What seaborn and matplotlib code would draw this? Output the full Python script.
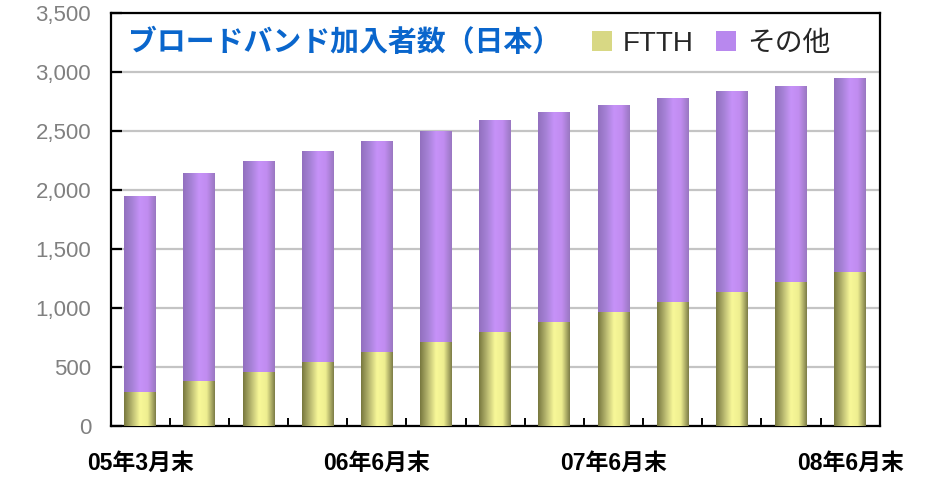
import numpy as np
import pandas as pd
import matplotlib
matplotlib.use("Agg")
import matplotlib.pyplot as plt
import seaborn as sns
from matplotlib.colors import LinearSegmentedColormap
from matplotlib.patches import Patch

# values in 10k subscribers
ftth = [280, 380, 450, 535, 620, 705, 790, 880, 960, 1045, 1130, 1215, 1300]
total = [1950, 2140, 2240, 2330, 2410, 2500, 2590, 2655, 2720, 2775, 2840, 2875, 2945]
other = [t - f for t, f in zip(total, ftth)]
period_labels = ["05年3月末", "", "", "", "06年6月末", "", "", "",
                 "07年6月末", "", "", "", "08年6月末"]
series_names = ["FTTH", "その他"]
title = "ブロードバンド加入者数（日本）"

df = pd.DataFrame({
    "pos": np.arange(len(total)),
    "ftth": ftth,
    "total": [f + o for f, o in zip(ftth, other)],
})

sns.set_theme(style="white")
plt.rcParams["font.family"] = ["Liberation Sans", "Noto Sans CJK JP", "DejaVu Sans"]

purple_cmap = LinearSegmentedColormap.from_list(
    "purple", ["#9270bf", "#a682d6", "#c692f8", "#c18cf0", "#9a78c2"])
yellow_cmap = LinearSegmentedColormap.from_list(
    "yellow", ["#78783f", "#b8b870", "#f8f898", "#eeee90", "#7e7e48"])


def shade_bars(ax, patches, cmap, zorder):
    # fake the cylinder look of the original with a horizontal gradient
    grad = np.linspace(0, 1, 64).reshape(1, -1)
    for p in patches:
        x0, y0 = p.get_x(), p.get_y()
        w, h = p.get_width(), p.get_height()
        ax.imshow(grad, cmap=cmap, extent=(x0, x0 + w, y0, y0 + h),
                  aspect="auto", interpolation="bilinear", zorder=zorder)
        p.set_visible(False)


fig = plt.figure(figsize=(9.3, 4.8), dpi=100)
ax = fig.add_axes([0.119, 0.113, 0.827, 0.86])

sns.barplot(data=df, x="pos", y="total", color="#b888ee", saturation=1,
            width=0.54, ax=ax)
n = len(ax.patches)
sns.barplot(data=df, x="pos", y="ftth", color="#e8e88a", saturation=1,
            width=0.54, ax=ax)
shade_bars(ax, ax.patches[:n], purple_cmap, 2)
shade_bars(ax, ax.patches[n:], yellow_cmap, 3)

ax.set_xlim(-0.5, len(total) - 0.5)
ax.set_ylim(0, 3500)
ax.set_yticks(np.arange(0, 3501, 500))
ax.set_yticklabels([f"{v:,}" for v in range(0, 3501, 500)])
ax.set_xticks(np.arange(len(total)))
ax.set_xticklabels(period_labels, fontweight="bold")
ax.set_xticks(np.arange(len(total) - 1) + 0.5, minor=True)
ax.set_xlabel("")
ax.set_ylabel("")

ax.yaxis.grid(True, color="#c4c4c4", linewidth=1.6)
ax.set_axisbelow(True)
for s in ax.spines.values():
    s.set_visible(True)
    s.set_color("black")
    s.set_linewidth(1.6)

ax.tick_params(axis="y", direction="in", length=8, width=1.6, color="black",
               labelsize=16, labelcolor="#808080", pad=14, left=True)
ax.tick_params(axis="x", which="major", length=0, labelsize=16.5,
               labelcolor="black", pad=19)
ax.tick_params(axis="x", which="minor", direction="in", length=6, width=1.4,
               color="black", bottom=True)

ax.text(0.022, 0.928, title, transform=ax.transAxes, fontsize=20.8,
        fontweight="bold", color="#0a66cc", va="center", ha="left", zorder=5)

handles = [Patch(facecolor="#d8d884", edgecolor="none"),
           Patch(facecolor="#b888ee", edgecolor="none")]
leg = ax.legend(handles, series_names, loc="center left",
                bbox_to_anchor=(0.612, 0.925), ncol=2, frameon=False,
                fontsize=20, handlelength=0.7, handleheight=0.7,
                handletextpad=0.4, columnspacing=0.8, borderaxespad=0)
leg.set_zorder(5)

fig.savefig("out.png", dpi=100)
